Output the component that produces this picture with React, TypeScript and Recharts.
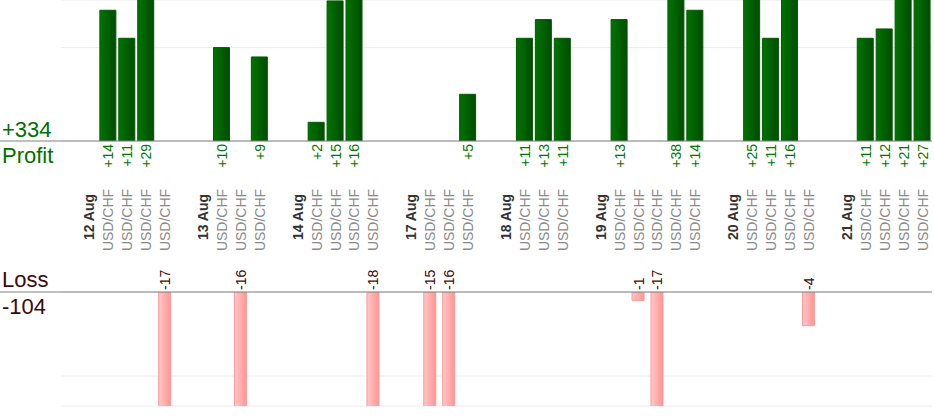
import { Bar, BarChart, CartesianGrid, XAxis, YAxis } from 'recharts';

const FONT = '"Liberation Sans", Arial, sans-serif';

const symbol = 'USD/CHF';
const days = ['12 Aug', '13 Aug', '14 Aug', '17 Aug', '18 Aug', '19 Aug', '20 Aug', '21 Aug'];
// trade results per day, in the order they appear
const results = [
  [14, 11, 29, -17],
  [10, -16, 9],
  [2, 15, 16, -18],
  [-15, -16, 5],
  [11, 13, 11],
  [13, -1, -17, 38, 14],
  [25, 11, 16, -4],
  [11, 12, 21, 27],
];
const profitTicks = [0, 10];
const lossTicks = [0, -10];

type Slot = { key: string; day: string | null; pair: string | null; profit: number | null; loss: number | null };

const slots: Slot[] = [];
const addSlot = (day: string | null, pair: string | null, value: number | null) =>
  slots.push({
    key: `s${slots.length}`,
    day,
    pair,
    profit: value !== null && value > 0 ? value : null,
    loss: value !== null && value < 0 ? value : null,
  });

addSlot(null, null, null);
days.forEach((day, i) => {
  addSlot(day, null, null);
  results[i].forEach((v) => addSlot(null, symbol, v));
  if (i < days.length - 1) addSlot(null, null, null);
});

const totalProfit = slots.reduce((s, d) => s + (d.profit || 0), 0);
const totalLoss = slots.reduce((s, d) => s + (d.loss || 0), 0);

const findSlot = (key: string) => slots.find((s) => s.key === key);

function ProfitTick({ x, y, payload }: any) {
  const slot = findSlot(payload.value);
  if (!slot) return <g />;
  return (
    <g>
      {slot.day && (
        <text
          transform={`translate(${x},${y + 76}) rotate(-90)`}
          textAnchor="middle"
          dominantBaseline="central"
          fontFamily={FONT}
          fontSize={14}
          fontWeight="bold"
          fill="#333"
        >
          {slot.day}
        </text>
      )}
      {slot.pair && (
        <text
          transform={`translate(${x},${y + 79}) rotate(-90)`}
          textAnchor="middle"
          dominantBaseline="central"
          fontFamily={FONT}
          fontSize={14}
          fill="#8a8a8a"
        >
          {slot.pair}
        </text>
      )}
      {slot.profit !== null && (
        <text
          transform={`translate(${x},${y + 3}) rotate(-90)`}
          textAnchor="end"
          dominantBaseline="central"
          fontFamily={FONT}
          fontSize={14}
          fill="#007a00"
        >
          {`+${slot.profit}`}
        </text>
      )}
    </g>
  );
}

function LossTick({ x, y, payload }: any) {
  const slot = findSlot(payload.value);
  if (!slot || slot.loss === null) return <g />;
  return (
    <text
      transform={`translate(${x},${y - 2}) rotate(-90)`}
      textAnchor="start"
      dominantBaseline="central"
      fontFamily={FONT}
      fontSize={14}
      fill="#3c0a0a"
    >
      {slot.loss}
    </text>
  );
}

function ProfitSide({ x, y, payload }: any) {
  if (payload.value !== 0) return <g />;
  return (
    <g>
      <line x1={0} x2={x} y1={y} y2={y} stroke="#808080" />
      <text x={2} y={y - 4} fontFamily={FONT} fontSize={22} fill="#007000">{`+${totalProfit}`}</text>
      <text x={2} y={y + 22} fontFamily={FONT} fontSize={22} fill="#007000">Profit</text>
    </g>
  );
}

function LossSide({ x, y, payload }: any) {
  if (payload.value !== 0) return <g />;
  return (
    <g>
      <line x1={0} x2={x} y1={y} y2={y} stroke="#808080" />
      <text x={2} y={y - 5} fontFamily={FONT} fontSize={22} fill="#3c0a0a">Loss</text>
      <text x={2} y={y + 22} fontFamily={FONT} fontSize={22} fill="#3c0a0a">{`${totalLoss}`}</text>
    </g>
  );
}

export default function App() {
  return (
    <div style={{ position: 'absolute', left: 0, top: 0, width: 934, height: 420, background: '#fff' }}>
      <div style={{ position: 'absolute', left: 0, top: 0 }}>
        <BarChart width={934} height={260} data={slots} margin={{ top: 0, right: 2, bottom: 0, left: 0 }}>
          <defs>
            <linearGradient id="profitFill" x1="0" y1="0" x2="1" y2="0">
              <stop offset="0%" stopColor="#007400" />
              <stop offset="100%" stopColor="#004c00" />
            </linearGradient>
          </defs>
          <CartesianGrid vertical={false} stroke="#ececec" />
          <XAxis
            dataKey="key"
            interval={0}
            height={119}
            tickSize={0}
            tickMargin={0}
            tickLine={false}
            axisLine={{ stroke: '#808080' }}
            tick={(p: any) => <ProfitTick {...p} />}
          />
          <YAxis
            width={61}
            domain={[0, 15.1]}
            ticks={profitTicks}
            allowDataOverflow
            tickSize={0}
            tickMargin={0}
            tickLine={false}
            axisLine={false}
            tick={(p: any) => <ProfitSide {...p} />}
          />
          <Bar dataKey="profit" barSize={16} fill="url(#profitFill)" stroke="#005a00" strokeWidth={1} isAnimationActive={false} />
        </BarChart>
      </div>
      <div style={{ position: 'absolute', left: 0, top: 260 }}>
        <BarChart width={934} height={160} data={slots} margin={{ top: 0, right: 2, bottom: 14, left: 0 }}>
          <defs>
            <linearGradient id="lossFill" x1="0" y1="0" x2="1" y2="0">
              <stop offset="0%" stopColor="#ffc8c8" />
              <stop offset="100%" stopColor="#ff9494" />
            </linearGradient>
          </defs>
          <CartesianGrid vertical={false} stroke="#ececec" />
          <XAxis
            dataKey="key"
            orientation="top"
            interval={0}
            height={32}
            tickSize={0}
            tickMargin={0}
            tickLine={false}
            axisLine={{ stroke: '#808080' }}
            tick={(p: any) => <LossTick {...p} />}
          />
          <YAxis
            width={61}
            domain={[-13.57, 0]}
            ticks={lossTicks}
            allowDataOverflow
            tickSize={0}
            tickMargin={0}
            tickLine={false}
            axisLine={false}
            tick={(p: any) => <LossSide {...p} />}
          />
          <Bar dataKey="loss" barSize={12} fill="url(#lossFill)" stroke="#ff9999" strokeWidth={1} isAnimationActive={false} />
        </BarChart>
      </div>
    </div>
  );
}
